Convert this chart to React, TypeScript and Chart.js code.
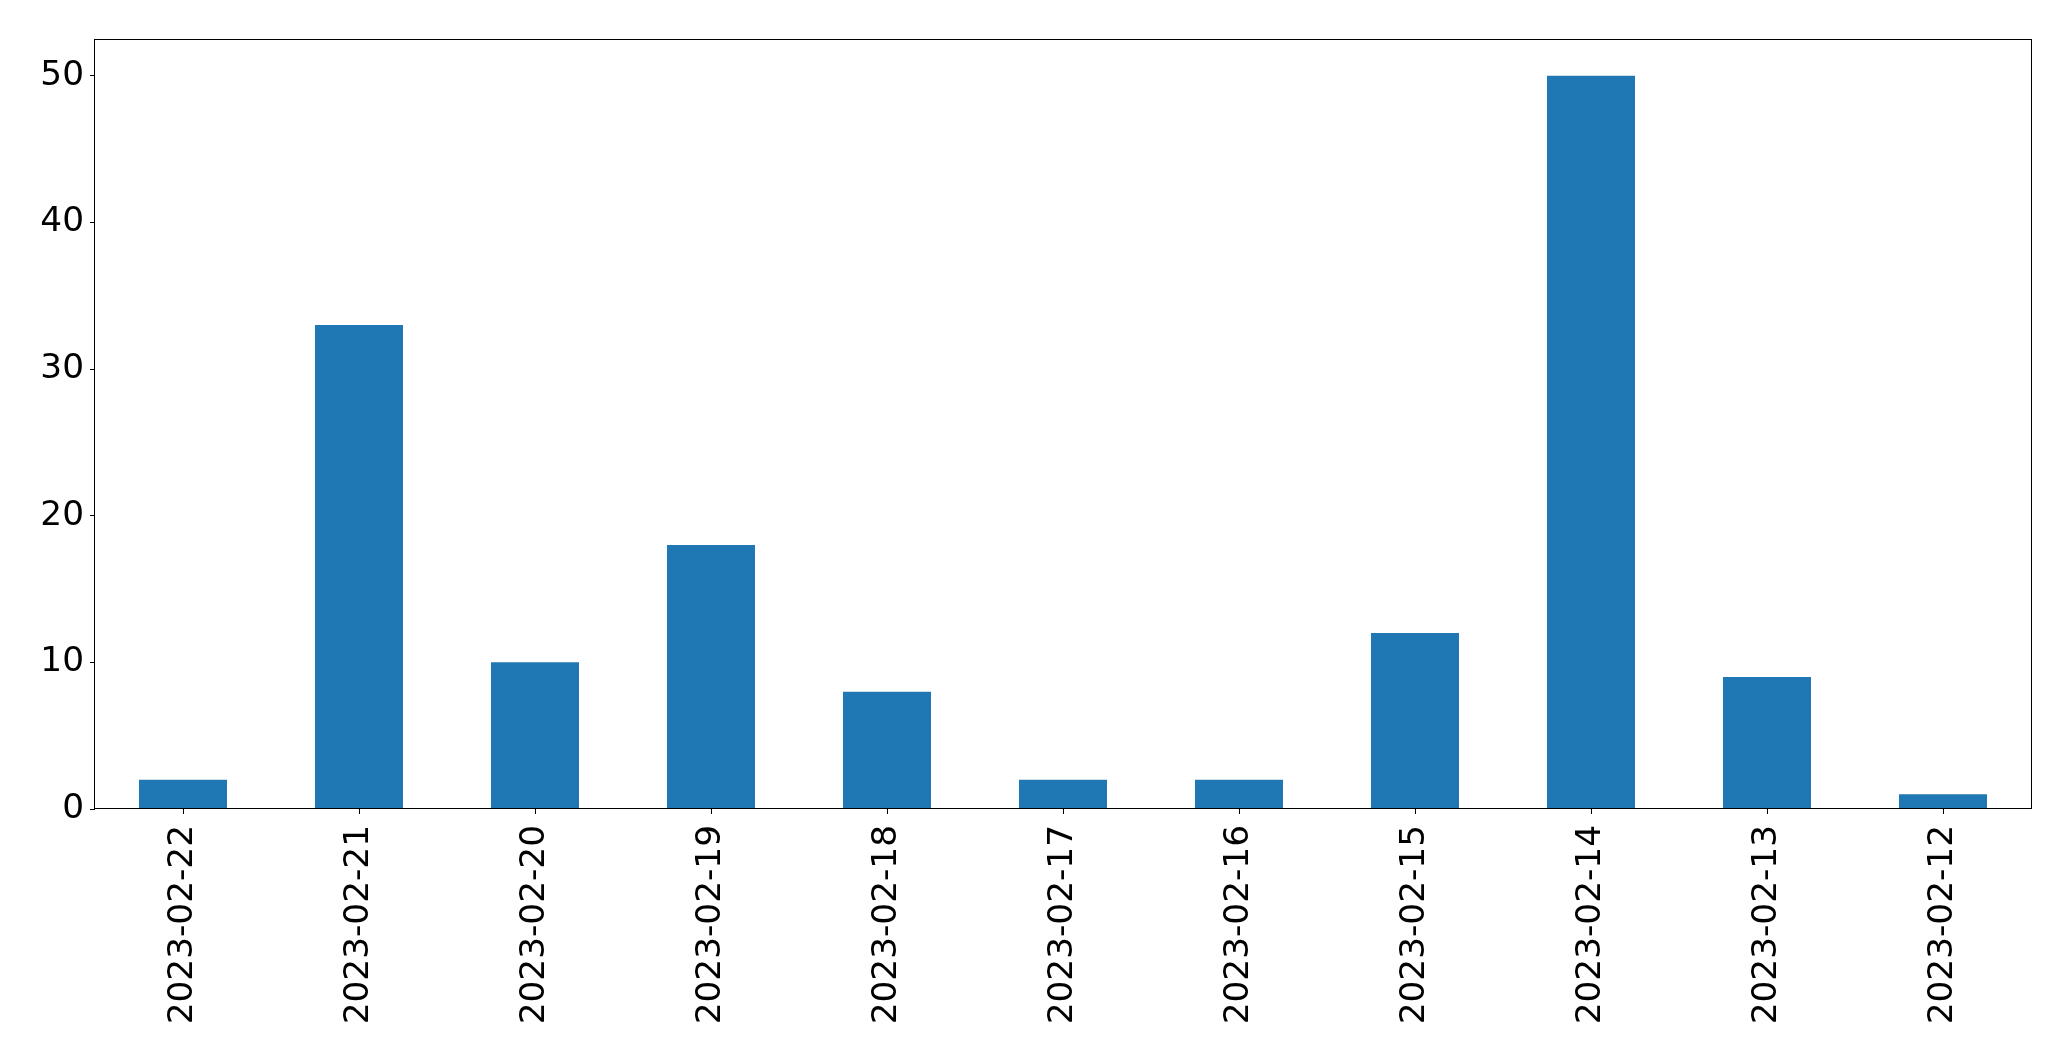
import React, { useEffect, useRef } from "react";
import { Chart, registerables } from "chart.js";

Chart.register(...registerables);

const categories = [
  "2023-02-22", "2023-02-21", "2023-02-20", "2023-02-19", "2023-02-18", "2023-02-17",
  "2023-02-16", "2023-02-15", "2023-02-14", "2023-02-13", "2023-02-12",
];
const counts = [2, 33, 10, 18, 8, 2, 2, 12, 50, 9, 1];
const yTicks = [0, 10, 20, 30, 40, 50];
const yMax = 52.5;

const W = 2071;
const H = 1061;
const FONT = "'DejaVu Sans', sans-serif";
const FONT_SIZE = 34.3;

const framePlugin = {
  id: "frame",
  afterDraw(chart: any) {
    const { ctx, chartArea } = chart;
    ctx.save();
    ctx.strokeStyle = "#000";
    ctx.lineWidth = 1;
    ctx.strokeRect(
      Math.round(chartArea.left) - 0.5,
      Math.round(chartArea.top) + 0.5,
      Math.round(chartArea.right - chartArea.left) + 1,
      Math.round(chartArea.bottom - chartArea.top) - 1
    );
    ctx.restore();
  },
};

export default function App() {
  const ref = useRef<HTMLCanvasElement | null>(null);
  useEffect(() => {
    if (!ref.current) return;
    const chart = new Chart(ref.current, {
      type: "bar",
      data: {
        labels: categories,
        datasets: [
          {
            data: counts,
            backgroundColor: "#1f77b4",
            borderWidth: 0,
            barPercentage: 0.5,
            categoryPercentage: 1,
          },
        ],
      },
      options: {
        animation: false,
        responsive: false,
        devicePixelRatio: 1,
        layout: { padding: { top: 39, right: 40, left: 0, bottom: 0 } },
        plugins: { legend: { display: false }, tooltip: { enabled: false } },
        scales: {
          x: {
            offset: true,
            border: { display: false },
            grid: {
              display: true,
              offset: false,
              drawOnChartArea: false,
              drawTicks: true,
              tickLength: 5,
              color: "#000",
              lineWidth: 1,
            },
            ticks: {
              minRotation: 90,
              maxRotation: 90,
              autoSkip: false,
              padding: 11,
              color: "#000",
              font: { family: FONT, size: FONT_SIZE },
            },
            afterFit(scale: any) {
              scale.height = 252;
            },
          },
          y: {
            min: 0,
            max: yMax,
            border: { display: false },
            grid: {
              display: true,
              drawOnChartArea: false,
              drawTicks: true,
              tickLength: 5,
              color: "#000",
              lineWidth: 1,
            },
            ticks: {
              padding: 6,
              color: "#000",
              font: { family: FONT, size: FONT_SIZE },
            },
            afterBuildTicks(scale: any) {
              scale.ticks = yTicks.map((v) => ({ value: v }));
            },
            afterFit(scale: any) {
              scale.width = 95;
            },
          },
        },
      },
      plugins: [framePlugin],
    });
    return () => chart.destroy();
  }, []);
  return (
    <div style={{ position: "absolute", left: 0, top: 0, width: W, height: H, background: "#fff" }}>
      <canvas ref={ref} width={W} height={H} style={{ width: W, height: H, display: "block" }} />
    </div>
  );
}
